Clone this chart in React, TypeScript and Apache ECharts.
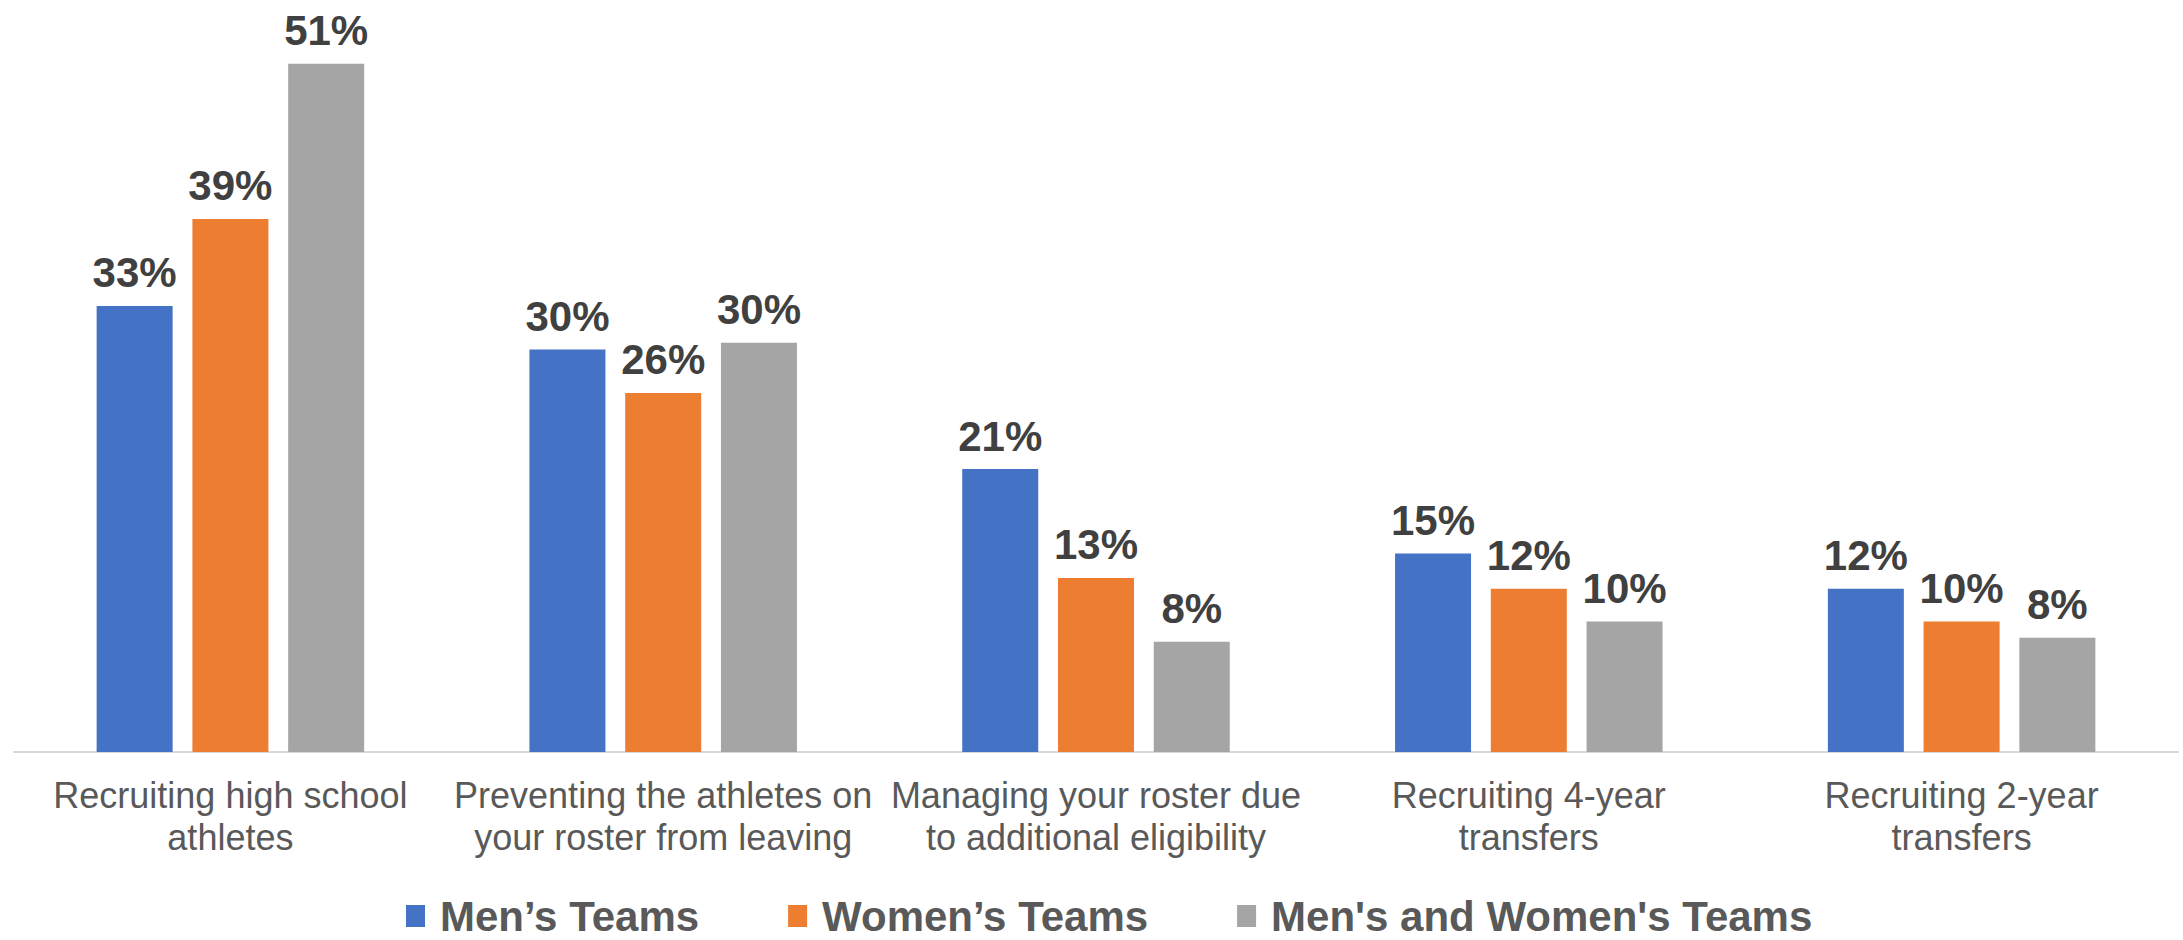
import React, { useEffect, useRef } from "react";
import * as echarts from "echarts";

const categories = [
  "Recruiting high school\nathletes",
  "Preventing the athletes on\nyour roster from leaving",
  "Managing your roster due\nto additional eligibility",
  "Recruiting 4-year\ntransfers",
  "Recruiting 2-year\ntransfers",
];
const seriesNames = ["Men’s Teams", "Women’s Teams", "Men's and Women's Teams"];
const mensTeams = [32.8, 29.6, 20.8, 14.6, 12.0];
const womensTeams = [39.2, 26.4, 12.8, 12.0, 9.6];
const bothTeams = [50.6, 30.1, 8.1, 9.6, 8.4];
const seriesColors = ["#4472C4", "#ED7D31", "#A5A5A5"];

const FONT = "'Liberation Sans', Arial, sans-serif";

export default function App() {
  const ref = useRef<HTMLDivElement>(null);
  useEffect(() => {
    if (!ref.current) return;
    const chart = echarts.init(ref.current, null, { renderer: "svg" });
    const data = [mensTeams, womensTeams, bothTeams];
    chart.setOption({
      animation: false,
      backgroundColor: "#ffffff",
      grid: { left: 14, right: 5, top: 4, bottom: 188, containLabel: false },
      legend: {
        left: 406,
        top: 895,
        padding: 0,
        icon: "rect",
        itemWidth: 19,
        itemHeight: 22,
        itemGap: 89,
        data: seriesNames,
        textStyle: {
          fontSize: 42,
          fontWeight: "bold",
          color: "#595959",
          fontFamily: FONT,
          padding: [0, 0, 0, 10],
        },
      },
      xAxis: {
        type: "category",
        data: categories,
        axisLine: { show: true, lineStyle: { color: "#D9D9D9", width: 2 } },
        axisTick: { show: false },
        axisLabel: {
          interval: 0,
          color: "#595959",
          fontSize: 36,
          lineHeight: 42,
          fontFamily: FONT,
          margin: 22,
        },
      },
      yAxis: {
        type: "value",
        min: 0,
        max: 55,
        show: false,
        splitLine: { show: false },
      },
      series: seriesNames.map((name, i) => ({
        name,
        type: "bar",
        data: data[i],
        barWidth: 76,
        barGap: "26%",
        itemStyle: { color: seriesColors[i] },
        label: {
          show: true,
          position: "top",
          distance: 12,
          formatter: (p: any) => Math.round(p.value) + "%",
          fontSize: 42,
          fontWeight: "bold",
          color: "#404040",
          fontFamily: FONT,
        },
      })),
    });
    return () => chart.dispose();
  }, []);
  return (
    <div
      ref={ref}
      style={{ position: "fixed", left: 0, top: 0, width: 2183, height: 940 }}
    />
  );
}
